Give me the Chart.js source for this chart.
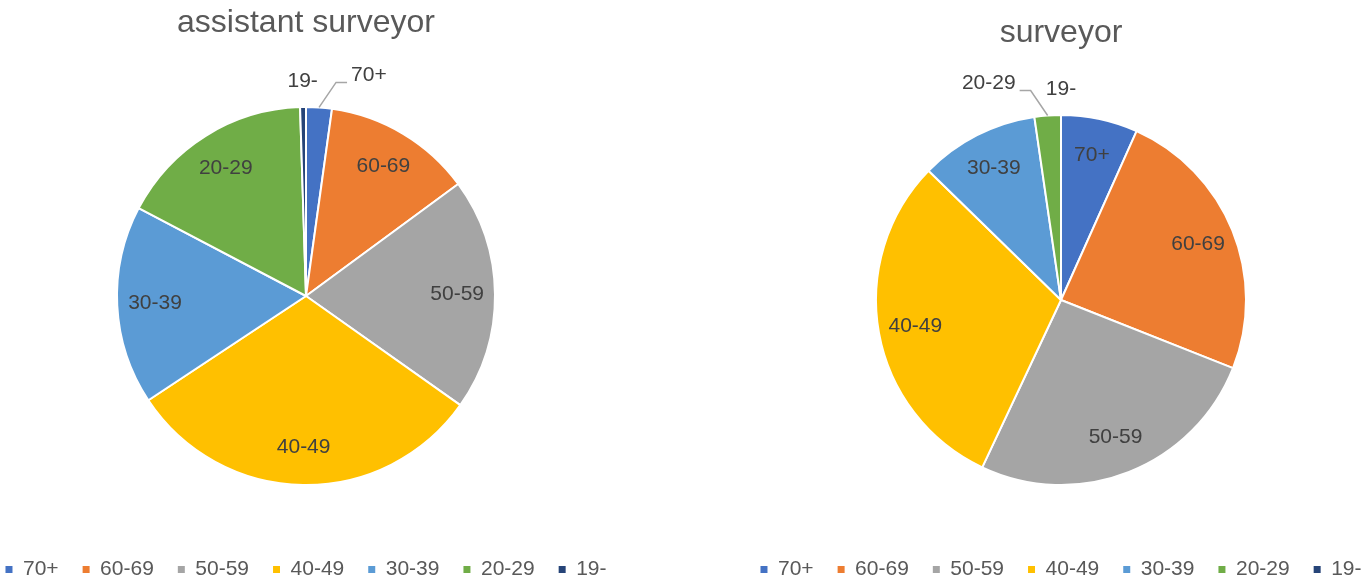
<!DOCTYPE html>
<html>
<head>
<meta charset="utf-8">
<script src="https://cdn.jsdelivr.net/npm/chart.js@4/dist/chart.umd.min.js"></script>
<style>
  html, body { margin: 0; padding: 0; background: #fff; }
  body { width: 1365px; height: 583px; overflow: hidden; position: relative; }
  .box { position: absolute; top: 0; width: 652px; height: 590px; }
  #left-box { left: -20px; }
  #right-box { left: 735px; }
</style>
</head>
<body>
<div class="box" id="left-box"><canvas id="assistant" width="652" height="590"></canvas></div>
<div class="box" id="right-box"><canvas id="surveyor" width="652" height="590"></canvas></div>
<script>
// Grupos de edad (mismo orden que la leyenda)
const ageGroups = ['70+', '60-69', '50-59', '40-49', '30-39', '20-29', '19-'];

// Porcentajes
const assistantValues = [2.2, 12.7, 19.9, 30.9, 17.0, 16.8, 0.5];
const surveyorValues = [6.7, 24.3, 26.0, 30.3, 10.4, 2.3, 0];

const sliceColors = ['#4472C4', '#ED7D31', '#A5A5A5', '#FFC000', '#5B9BD5', '#70AD47', '#264478'];

const FONT = '"Liberation Sans", Arial, sans-serif';

// Etiquetas dentro de cada porción, o fuera con línea guía para las pequeñas
const sliceLabels = {
    id: 'sliceLabels',
    afterDatasetsDraw(chart, args, opts) {
        const ctx = chart.ctx;
        const meta = chart.getDatasetMeta(0);
        const outside = opts.outside || {};
        ctx.save();
        ctx.font = '21px ' + FONT;
        ctx.fillStyle = '#404040';
        ctx.textBaseline = 'middle';
        meta.data.forEach((arc, i) => {
            const label = chart.data.labels[i];
            const p = arc.getProps(['x', 'y', 'startAngle', 'endAngle', 'outerRadius'], true);
            const mid = (p.startAngle + p.endAngle) / 2;
            const cos = Math.cos(mid), sin = Math.sin(mid);
            const r = p.outerRadius;
            if (label in outside) {
                const d = outside[label];
                if (d === 0) {
                    ctx.textAlign = 'center';
                    ctx.fillText(label, p.x + (r + 26) * cos, p.y + (r + 26) * sin);
                } else {
                    const x0 = p.x + r * cos, y0 = p.y + r * sin;
                    const x1 = x0 + d * 17, y1 = y0 - 25;
                    const x2 = x1 + d * 11;
                    ctx.strokeStyle = '#A6A6A6';
                    ctx.lineWidth = 1.5;
                    ctx.beginPath();
                    ctx.moveTo(x0, y0);
                    ctx.lineTo(x1, y1);
                    ctx.lineTo(x2, y1);
                    ctx.stroke();
                    ctx.textAlign = d > 0 ? 'left' : 'right';
                    ctx.fillText(label, x2 + d * 4, y1 - 7);
                }
            } else {
                ctx.textAlign = 'center';
                ctx.fillText(label, p.x + 0.8 * r * cos, p.y + 0.8 * r * sin);
            }
        });
        ctx.restore();
    }
};

function makePie(canvasId, title, values, radius, titlePadding, outside) {
    return new Chart(document.getElementById(canvasId), {
        type: 'pie',
        data: {
            labels: ageGroups,
            datasets: [{
                data: values,
                backgroundColor: sliceColors,
                borderColor: '#ffffff',
                borderWidth: 2,
                radius: radius
            }]
        },
        options: {
            responsive: false,
            animation: false,
            devicePixelRatio: 1,
            layout: { padding: 0 },
            plugins: {
                title: {
                    display: true,
                    text: title,
                    color: '#595959',
                    font: { family: FONT, size: 32, weight: 'normal', lineHeight: 1 },
                    padding: titlePadding
                },
                legend: {
                    position: 'bottom',
                    labels: {
                        color: '#595959',
                        font: { family: FONT, size: 21 },
                        boxWidth: 7,
                        boxHeight: 7,
                        padding: 24,
                        generateLabels(chart) {
                            const items = Chart.overrides.pie.plugins.legend.labels.generateLabels(chart);
                            return items.map(it => Object.assign(it, { lineWidth: 0, strokeStyle: it.fillStyle }));
                        }
                    }
                },
                tooltip: { enabled: false },
                sliceLabels: { outside: outside }
            }
        },
        plugins: [sliceLabels]
    });
}

makePie('assistant', 'assistant surveyor', assistantValues, 189, { top: 7, bottom: 18 }, { '70+': 1, '19-': 0 });
makePie('surveyor', 'surveyor', surveyorValues, 185, { top: 17, bottom: 16 }, { '20-29': -1, '19-': 0 });
</script>
</body>
</html>
